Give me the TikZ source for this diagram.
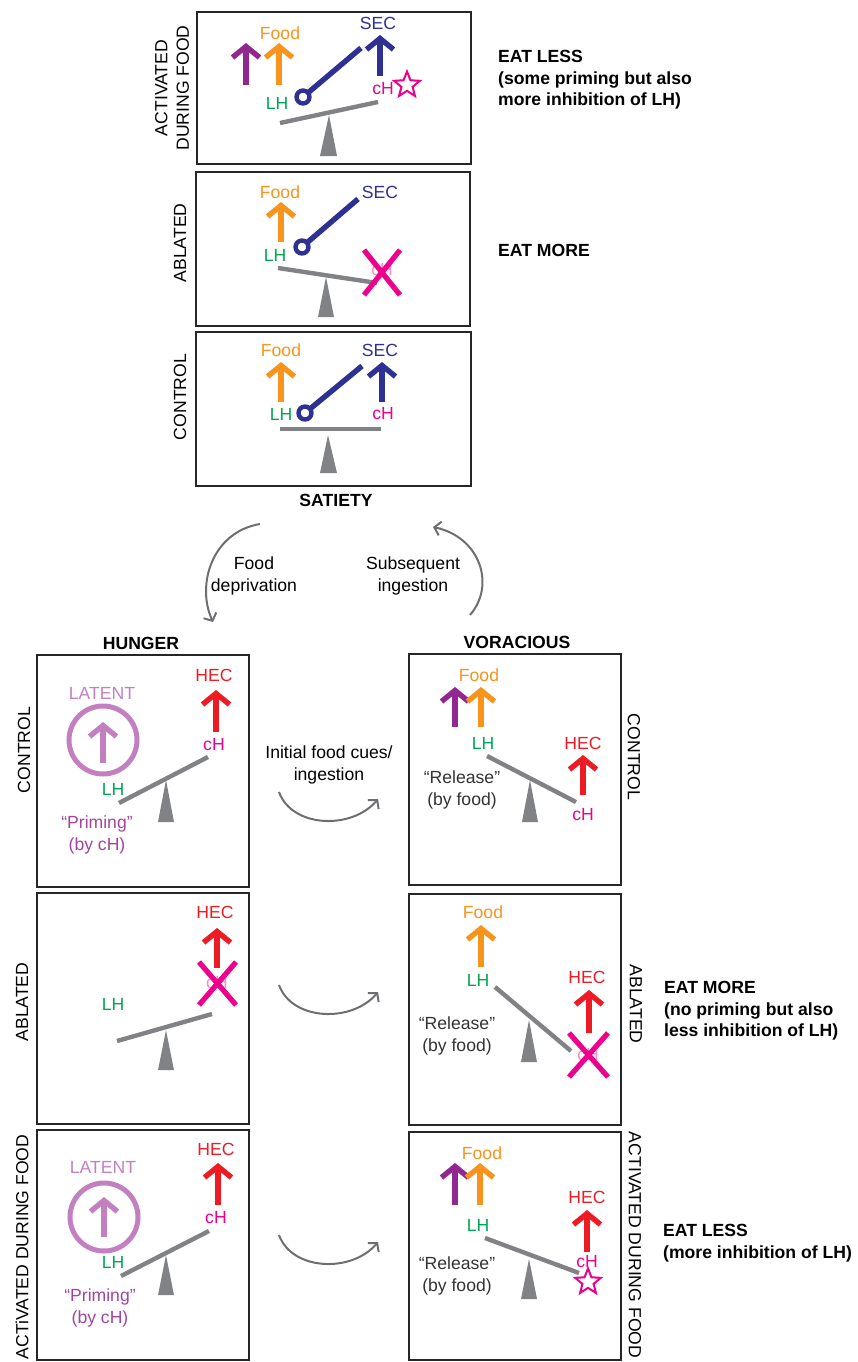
\documentclass[tikz,border=0pt]{standalone}
\usepackage{xcolor}
\usepackage{fontspec}
\setmainfont{Liberation Sans}
\usepackage{tikz}
\usetikzlibrary{arrows.meta,shapes.geometric,calc}

\definecolor{foodor}{HTML}{F7941D}
\definecolor{secblue}{HTML}{2E3192}
\definecolor{lhgreen}{HTML}{00A651}
\definecolor{chmag}{HTML}{EC008C}
\definecolor{hecred}{HTML}{ED1C24}
\definecolor{drvpurp}{HTML}{92278F}
\definecolor{latpurp}{HTML}{C280C0}
\definecolor{primpurp}{HTML}{A2449F}
\definecolor{leverg}{HTML}{808285}
\definecolor{cycg}{HTML}{6D6E71}
\definecolor{relg}{HTML}{333333}

\newcommand{\lblsize}{\fontsize{17.6}{21.5}\selectfont}

\tikzset{
  box/.style={draw=black!85, line width=2pt},
  lbl/.style={font=\lblsize, inner sep=0pt},
  hdr/.style={font=\bfseries\lblsize, inner sep=0pt},
  sidetxt/.style={font=\bfseries\lblsize, inner sep=0pt, anchor=west, align=left},
  uparr/.style={line width=5.4pt, -{Straight Barb[length=11pt,width=27pt,line width=5.4pt]}},
  beam/.style={draw=leverg, line width=4.4pt},
  fulcrum/.style={fill=leverg},
  inhib/.style={draw=secblue, line width=5.4pt},
  ablx/.style={draw=chmag, line width=5.2pt},
  actstar/.style={star, star points=5, star point ratio=2.3, draw=chmag,
    line width=2pt, minimum size=27pt, inner sep=0pt},
  cyc/.style={draw=cycg, line width=2pt, -{Straight Barb[length=6pt,width=14pt]}},
}

\begin{document}
\begin{tikzpicture}[x=1pt,y=-1pt]
\useasboundingbox (0,0) rectangle (857,1362);

% satiety column
\draw[box] (197,12) rectangle (471,164);
\draw[box] (196,172) rectangle (470,326);
\draw[box] (196,332) rectangle (471,486);

\node[lbl, rotate=90, align=center] (sactlbl) at (172,88) {ACTIVATED\\DURING FOOD};
\node[lbl, rotate=90] (sabllbl) at (180,243) {ABLATED};
\node[lbl, rotate=90] (sctllbl) at (180,397) {CONTROL};

% activated during food
\draw[uparr, drvpurp] (246,85) -- (246,43);
\draw[uparr, foodor] (279,85) -- (279,43);
\node[lbl, foodor] (food1) at (280,33) {Food};
\draw[uparr, secblue] (380,76) -- (380,35);
\node[lbl, secblue] (sec1) at (378,23) {SEC};
\draw[inhib] (361,48) -- (303,97);
\draw[secblue, line width=4.4pt, fill=white] (303,97) circle (6.5);
\node[lbl, lhgreen] (lh1) at (277,103) {LH};
\node[lbl, chmag] (ch1) at (383,89) {cH};
\node[actstar] (star1) at (407,85) {};
\draw[beam] (280,123) -- (378,102);
\fill[fulcrum] (329,115) -- (337,156) -- (320,156) -- cycle;

\node[sidetxt] (eat1) at (498,80) {EAT LESS\\(some priming but also\\more inhibition of LH)};

% ablated
\draw[uparr, foodor] (281,242) -- (281,202);
\node[lbl, foodor] (food2) at (280,192) {Food};
\node[lbl, secblue] (sec2) at (380,192) {SEC};
\draw[inhib] (358,199) -- (302,247);
\draw[secblue, line width=4.4pt, fill=white] (302,247) circle (6.5);
\node[lbl, lhgreen] (lh2) at (275,255) {LH};
\draw[beam] (278,268) -- (377,283);
\fill[fulcrum] (326,277) -- (334,317) -- (318,317) -- cycle;
\node[lbl, chmag!45] (ch2) at (382,270) {cH};
\draw[ablx] (364,250) -- (400,295);
\draw[ablx] (400,250) -- (364,295);

\node[sidetxt] (eat2) at (498,250) {EAT MORE};

% control
\draw[uparr, foodor] (281,402) -- (281,362);
\node[lbl, foodor] (food3) at (281,350) {Food};
\draw[uparr, secblue] (382,402) -- (382,362);
\node[lbl, secblue] (sec3) at (380,350) {SEC};
\draw[inhib] (362,366) -- (305,413);
\draw[secblue, line width=4.4pt, fill=white] (305,413) circle (6.5);
\node[lbl, lhgreen] (lh3) at (281,414) {LH};
\node[lbl, chmag] (ch3) at (383,414) {cH};
\draw[beam] (280,429) -- (381,429);
\fill[fulcrum] (328,435) -- (337,473) -- (320,473) -- cycle;

\node[hdr] (satiety) at (336,500) {SATIETY};

% cycle
\coordinate (dep0) at (260,524);
\coordinate (dep1) at (213,622);
\draw[cyc] (dep0) .. controls (212,532) and (196,585) .. (dep1);
\node[lbl, align=center] (deptxt) at (254,576) {Food\\deprivation};
\coordinate (ing0) at (470,615);
\coordinate (ing1) at (433,527);
\draw[cyc] (ing0) .. controls (496,585) and (480,537) .. (ing1);
\node[lbl, align=center] (ingtxt) at (413,576) {Subsequent\\ingestion};

\node[hdr] (hunger) at (141,643) {HUNGER};
\node[hdr] (vorac) at (517,642) {VORACIOUS};

% hunger / voracious boxes
\draw[box] (37,655) rectangle (249,887);
\draw[box] (37,893) rectangle (249,1124);
\draw[box] (37,1130) rectangle (249,1360);
\draw[box] (409,654) rectangle (621,885);
\draw[box] (409,894) rectangle (621,1125);
\draw[box] (409,1132) rectangle (621,1360);

\node[lbl, rotate=90] (hctllbl) at (24,750) {CONTROL};
\node[lbl, rotate=90] (habllbl) at (22,1002) {ABLATED};
\node[lbl, rotate=90] (hactlbl) at (22,1247) {ACTiVATED DURING FOOD};
\node[lbl, rotate=-90] (vctllbl) at (634,757) {CONTROL};
\node[lbl, rotate=-90] (vabllbl) at (636,1004) {ABLATED};
\node[lbl, rotate=-90] (vactlbl) at (635,1245) {ACTIVATED DURING FOOD};

% hunger, control
\node[lbl, latpurp] (lat1) at (102,693) {LATENT};
\draw[latpurp, line width=5pt] (103,740) circle (34);
\draw[uparr, latpurp] (103,763) -- (103,722);
\node[lbl, hecred] (hec1) at (214,675) {HEC};
\draw[uparr, hecred] (216,732) -- (216,690);
\node[lbl, chmag] (ch4) at (214,745) {cH};
\node[lbl, lhgreen] (lh4) at (113,789) {LH};
\draw[beam] (119,803) -- (208,757);
\fill[fulcrum] (166,780) -- (174,822) -- (158,822) -- cycle;
\node[lbl, primpurp, align=center] (prim1) at (97,835) {“Priming”\\(by cH)};

% voracious, control
\draw[uparr, drvpurp] (455,727) -- (455,687);
\draw[uparr, foodor] (481,727) -- (481,687);
\node[lbl, foodor] (food4) at (479,675) {Food};
\node[lbl, lhgreen] (lh5) at (483,743) {LH};
\node[lbl, hecred] (hec2) at (583,743) {HEC};
\draw[uparr, hecred] (583,795) -- (583,755);
\draw[beam] (487,756) -- (576,802);
\fill[fulcrum] (530,780) -- (538,822) -- (522,822) -- cycle;
\node[lbl, chmag] (ch5) at (583,815) {cH};
\node[lbl, relg, align=center] (rel1) at (462,790) {“Release”\\(by food)};

\coordinate (ini0) at (279,792);
\coordinate (ini1) at (378,799);
\draw[cyc] (ini0) .. controls (292,828) and (352,830) .. (ini1);
\node[lbl, align=center] (initxt) at (329,765) {Initial food cues/\\ingestion};

% hunger, ablated
\node[lbl, hecred] (hec3) at (215,912) {HEC};
\draw[uparr, hecred] (217,968) -- (217,928);
\node[lbl, chmag!45] (ch6) at (217,983) {cH};
\draw[ablx] (199,962) -- (236,1005);
\draw[ablx] (236,962) -- (199,1005);
\node[lbl, lhgreen] (lh6) at (113,1004) {LH};
\draw[beam] (117,1041) -- (212,1014);
\fill[fulcrum] (166,1030) -- (174,1070) -- (158,1070) -- cycle;

% voracious, ablated
\node[lbl, foodor] (food5) at (483,912) {Food};
\draw[uparr, foodor] (481,967) -- (481,925);
\node[lbl, lhgreen] (lh7) at (478,980) {LH};
\node[lbl, hecred] (hec4) at (587,977) {HEC};
\draw[uparr, hecred] (589,1033) -- (589,990);
\draw[beam] (495,987) -- (571,1051);
\fill[fulcrum] (529,1020) -- (537,1062) -- (521,1062) -- cycle;
\node[lbl, relg, align=center] (rel2) at (457,1036) {“Release”\\(by food)};
\node[lbl, chmag!45] (ch7) at (588,1055) {cH};
\draw[ablx] (569,1033) -- (608,1077);
\draw[ablx] (608,1033) -- (569,1077);

\coordinate (abl0) at (279,985);
\coordinate (abl1) at (378,992);
\draw[cyc] (abl0) .. controls (292,1021) and (352,1023) .. (abl1);

\node[sidetxt] (eat3) at (664,1011) {EAT MORE\\(no priming but also\\less inhibition of LH)};

% hunger, activated
\node[lbl, latpurp] (lat2) at (103,1167) {LATENT};
\draw[latpurp, line width=5pt] (104,1217) circle (34);
\draw[uparr, latpurp] (104,1237) -- (104,1197);
\node[lbl, hecred] (hec5) at (216,1149) {HEC};
\draw[uparr, hecred] (218,1205) -- (218,1163);
\node[lbl, chmag] (ch8) at (216,1218) {cH};
\node[lbl, lhgreen] (lh8) at (113,1262) {LH};
\draw[beam] (121,1276) -- (209,1231);
\fill[fulcrum] (166,1255) -- (174,1295) -- (158,1295) -- cycle;
\node[lbl, primpurp, align=center] (prim2) at (100,1308) {“Priming”\\(by cH)};

% voracious, activated
\draw[uparr, drvpurp] (455,1205) -- (455,1163);
\draw[uparr, foodor] (480,1205) -- (480,1163);
\node[lbl, foodor] (food6) at (482,1153) {Food};
\node[lbl, lhgreen] (lh9) at (478,1225) {LH};
\node[lbl, hecred] (hec6) at (587,1197) {HEC};
\draw[uparr, hecred] (587,1252) -- (587,1210);
\node[lbl, chmag] (ch9) at (587,1262) {cH};
\node[actstar] (star2) at (588,1282) {};
\draw[beam] (485,1238) -- (579,1273);
\fill[fulcrum] (529,1259) -- (537,1299) -- (521,1299) -- cycle;
\node[lbl, relg, align=center] (rel3) at (457,1276) {“Release”\\(by food)};

\coordinate (act0) at (279,1235);
\coordinate (act1) at (378,1242);
\draw[cyc] (act0) .. controls (292,1271) and (352,1273) .. (act1);

\node[sidetxt] (eat4) at (663,1243) {EAT LESS\\(more inhibition of LH)};

\end{tikzpicture}
\end{document}
